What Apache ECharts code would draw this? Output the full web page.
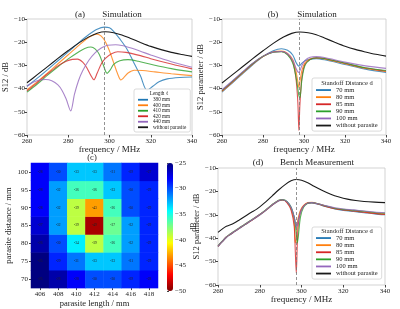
<!DOCTYPE html>
<html>
<head>
<meta charset="utf-8">
<script src="https://cdn.jsdelivr.net/npm/echarts@6/dist/echarts.min.js"></script>
<style>
html,body{margin:0;padding:0;background:#fff}
#chart{width:400px;height:309px}
</style>
</head>
<body>
<div id="chart"></div>
<script>
// (a) simulation, parasite length
var freqA380 = [260,265,270,275,280,285,290,294,297.5,300,302,305,308.5,311.5,315,318.2,321,324,328,334,340];
var s12A380 = [-39,-35.5,-31.8,-28,-24.2,-20.3,-16.7,-14.4,-13.5,-13.8,-15.3,-18.6,-23,-28.3,-34.5,-40.7,-39,-37,-35.8,-35.2,-35];
var freqA400 = [260,265,270,275,280,285,289,292,294,296,298,300,302,304,305.5,307,309,312,316,322,330,340];
var s12A400 = [-40.5,-37,-33.2,-29.3,-25.4,-21.5,-18.5,-17,-16.6,-17.4,-19.8,-23.8,-28.8,-33.8,-36.3,-35.2,-33.3,-32.1,-32.2,-32.8,-33.6,-34.4];
var freqA410 = [260,265,270,275,280,285,288,291,293,295,297,298.8,300.3,302,305,309,314,320,330,340];
var s12A410 = [-41.5,-38,-34.2,-30.6,-27.2,-24.2,-22.7,-22.1,-22.9,-25.2,-29.8,-33.4,-32,-29.6,-28,-27.5,-28.2,-29.5,-31.4,-32.8];
var freqA420 = [260,265,270,275,279,282,284.5,287,289,291,292.4,294,296,298,301,304,308,315,320,330,340];
var s12A420 = [-41,-37.4,-33.6,-30.2,-28.2,-27.4,-27.3,-28.6,-31,-34.4,-36.2,-33.4,-29.4,-27,-25,-24.1,-24.4,-25.8,-27.1,-29.4,-31.5];
var freqA440 = [260,263,266,269,272,275,277,279,281.2,283,285,287,290,293,296,299,303,306,310,315,320,330,340];
var s12A440 = [-39,-37.3,-36.3,-36.1,-36.6,-38.4,-40.8,-44.5,-49.6,-42.5,-36.5,-32.3,-27.8,-24.6,-22.5,-21.3,-21.1,-21.4,-22.4,-23.9,-25.5,-28.4,-30.8];
var freqA0 = [260,265,270,275,280,285,290,294,298,302,306,310,315,320,325,330,335,340];
var s12A0 = [-37.5,-34,-30.5,-27,-23.6,-20.4,-17.7,-16.1,-15.5,-15.9,-16.9,-18.3,-20.1,-21.8,-23.2,-24.4,-25.3,-26.1];

// (b) simulation, standoff distance
var freqB = [260,265,270,275,280,285,289,292,294.5,296,297,297.5,298,299,300.5,303,306,310,320,330,340];
var s12B70 = [-41.5,-37.6,-33.6,-29.7,-26.2,-23.7,-22.8,-23.5,-25.5,-28.5,-30,-30.3,-30,-29,-28,-27.3,-27.1,-27.6,-29.6,-31.6,-33];
var s12B80 = [-41.2,-37.3,-33.3,-29.4,-26.2,-24.2,-23.8,-24.8,-27.5,-32,-37,-39.5,-37,-32,-28.8,-27.2,-26.8,-27.2,-29.3,-31.3,-32.6];
var s12B85 = [-41,-37.1,-33.1,-29.3,-26.1,-24.2,-24,-25.2,-28.5,-35,-46,-58,-47,-35,-29.5,-27.4,-26.7,-27,-29.1,-31.1,-32.4];
var s12B90 = [-40.8,-36.9,-33,-29.2,-26.1,-24.3,-24.1,-25.5,-29,-34.5,-40,-43,-44,-36,-30,-27.5,-26.7,-27,-29,-31,-32.2];
var s12B100 = [-40.5,-36.7,-32.8,-29,-26,-24.2,-24,-25,-27.8,-31,-32.8,-33,-32.3,-30,-27.8,-26.5,-26.2,-26.6,-28.6,-30.2,-31.3];
var freqB0 = [260,265,270,275,280,285,290,294,298,302,306,310,315,320,325,330,335,340];
var s12B0 = [-37.6,-34.1,-30.6,-27.1,-23.7,-20.5,-17.8,-16.2,-15.6,-15.9,-16.8,-18.2,-20,-21.7,-23.1,-24.2,-25.2,-26];

// (c) heatmap
var lengthCats = ['406','408','410','412','414','416','418'];
var distanceCats = ['70','75','80','85','90','95','100'];
var s12Grid70 = [-25,-26,-28,-30,-30,-29,-28];
var s12Grid75 = [-25,-29,-31,-33,-33,-31,-29];
var s12Grid80 = [-26,-30,-34,-39,-36,-32,-29];
var s12Grid85 = [-27,-32,-39,-49,-37,-32,-29];
var s12Grid90 = [-28,-32,-39,-43,-36,-30,-29];
var s12Grid95 = [-28,-32,-36,-36,-33,-30,-29];
var s12Grid100 = [-28,-30,-33,-33,-31,-29,-27];
var colorbarTicks = [-50,-45,-40,-35,-30,-25];

// (d) bench measurement
var freqD = [260,262,264,266,268,270,273,276,280,283,286,289,291,293,295,296.5,297,297.5,298,298.5,299.5,301,303,305,308,312,316,320,325,330,335,340];
var s12D70 = [-43.6,-41.6,-39.7,-38.4,-37.2,-36,-34.2,-32.5,-30.1,-28.1,-25.9,-24.1,-23.7,-24.4,-26.8,-31,-33.5,-35,-34,-32,-28.5,-26.2,-25,-24.9,-25.5,-26.6,-27.5,-28.1,-28.6,-29.1,-29.6,-30];
var s12D80 = [-43.4,-41.4,-39.5,-38.2,-37,-35.8,-34,-32.3,-29.9,-27.9,-25.7,-23.9,-23.6,-24.6,-27.5,-33,-42,-40,-34,-31,-28,-26,-24.8,-24.7,-25.3,-26.4,-27.3,-27.8,-28.3,-28.8,-29.3,-29.7];
var s12D85 = [-43.5,-41.5,-39.6,-38.3,-37.1,-35.9,-34.1,-32.4,-30,-28,-25.8,-24,-23.7,-24.8,-28,-35,-45,-55,-42,-34,-29,-26.3,-25,-24.8,-25.4,-26.5,-27.4,-27.9,-28.4,-28.9,-29.4,-29.8];
var s12D90 = [-43.3,-41.3,-39.4,-38.1,-36.9,-35.7,-33.9,-32.2,-29.8,-27.8,-25.6,-23.8,-23.5,-24.3,-26.8,-31,-34,-38,-42,-39,-31,-26.8,-25.1,-24.8,-25.3,-26.3,-27.2,-27.7,-28.1,-28.5,-29,-29.3];
var s12D100 = [-43.4,-41.4,-39.5,-38.2,-37,-35.8,-34,-32.3,-29.9,-27.9,-25.7,-23.9,-23.6,-24.4,-26.9,-31,-33.5,-35,-34.5,-32.5,-29,-26.4,-25,-24.8,-25.3,-26.2,-27,-27.5,-27.9,-28.4,-28.8,-29.1];
var freqD0 = [260,262,264,266,268,270,273,276,278,280,283,286,289,292,295,297.5,300,303,306,310,314,318,322,326,330,335,340];
var s12D0 = [-37.5,-36.1,-34.9,-34.3,-33.4,-32.3,-30.6,-28.9,-27.9,-26.6,-24.4,-21.9,-19.4,-17.2,-15.5,-14.9,-15.2,-16.3,-17.8,-19.6,-21.2,-22.4,-23.3,-23.9,-24.3,-24.6,-24.8];

var resonanceFreq = 297.5;

var SERIF = "'Liberation Serif', 'DejaVu Serif', serif";
var C = {blue:'#1f77b4', orange:'#ff7f0e', green:'#2ca02c', red:'#d62728', purple:'#9467bd', black:'#1a1a1a'};

function minus(v) { return String(v).replace('-', '\u2212'); }

function line(name, xs, ys, color, g, dash) {
	var s = {
		type: 'line', name: name, xAxisIndex: g, yAxisIndex: g,
		data: xs.map(function(x, i){ return [x, ys[i]]; }),
		showSymbol: false, smooth: 0.3, silent: true,
		lineStyle: {color: color, width: 1.1, opacity: color === C.black ? 1 : 0.8},
		itemStyle: {color: color}
	};
	if (dash) {
		s.markLine = {
			silent: true, symbol: ['none','none'], label: {show: false},
			lineStyle: {color: '#777', type: [3,2], width: 0.8},
			data: [{xAxis: resonanceFreq}]
		};
	}
	return s;
}

function freqAxis(g, gap) {
	return {
		type: 'value', gridIndex: g, min: 260, max: 340, interval: 20,
		name: 'frequency / MHz', nameLocation: 'middle', nameGap: gap,
		nameTextStyle: {fontFamily: SERIF, fontSize: 9, color: '#222'},
		axisLine: {show: false},
		axisTick: {show: true, length: 2.5, lineStyle: {color: '#444'}},
		axisLabel: {fontFamily: SERIF, fontSize: 7, color: '#222', margin: 2.5, formatter: minus},
		splitLine: {show: false}
	};
}
function dbAxis(g, name, gap) {
	return {
		type: 'value', gridIndex: g, min: -60, max: -10, interval: 10,
		name: name, nameLocation: 'middle', nameGap: gap,
		nameTextStyle: {fontFamily: SERIF, fontSize: 8.5, color: '#222'},
		axisLine: {show: false},
		axisTick: {show: true, length: 2.5, lineStyle: {color: '#444'}},
		axisLabel: {fontFamily: SERIF, fontSize: 7, color: '#222', margin: 2, formatter: minus},
		splitLine: {show: false}
	};
}
function catAxis(g, cats, name, gap) {
	return {
		type: 'category', gridIndex: g, data: cats,
		name: name, nameLocation: 'middle', nameGap: gap,
		nameTextStyle: {fontFamily: SERIF, fontSize: 8.5, color: '#222'},
		axisLine: {show: false},
		axisTick: {show: true, alignWithLabel: true, interval: 0, length: 2, lineStyle: {color: '#444'}},
		axisLabel: {fontFamily: SERIF, fontSize: 7, color: '#222', margin: 3, interval: 0},
		splitLine: {show: false}, splitArea: {show: false}
	};
}
function legendBox(names, left, top, padTop, iconW, fs, lh) {
	return {
		data: names, orient: 'vertical', left: left, top: top,
		padding: [padTop, 4, 2, 4], itemWidth: iconW, itemHeight: 1.8, itemGap: 0,
		icon: 'rect', selectedMode: false,
		textStyle: {fontFamily: SERIF, fontSize: fs, lineHeight: lh, color: '#222'},
		backgroundColor: 'rgba(255,255,255,0.9)', borderColor: '#ccc', borderWidth: 0.7, borderRadius: 2
	};
}
function label(text, x, y, fs) {
	return {type: 'text', x: x, y: y, z: 100,
		style: {text: text, fontFamily: SERIF, fontSize: fs, fill: '#222', align: 'center', verticalAlign: 'middle'}};
}

var heatRows = [s12Grid70, s12Grid75, s12Grid80, s12Grid85, s12Grid90, s12Grid95, s12Grid100];
var heatData = [];
heatRows.forEach(function(row, i){
	row.forEach(function(v, j){ heatData.push([j, i, v]); });
});

var frame = {show: true, borderColor: '#c8c8c8', borderWidth: 0.8, backgroundColor: 'transparent'};
var gridBox = function(l, t, w, h, f){ return Object.assign({left: l, top: t, width: w, height: h}, f ? frame : {show: false}); };

var series = [
	{
		type: 'heatmap', xAxisIndex: 2, yAxisIndex: 2, data: heatData, silent: true,
		label: {show: true, fontSize: 3.5, color: '#222', fontFamily: SERIF,
			formatter: function(p){ return p.value[2]; }}
	},
	line('380 mm', freqA380, s12A380, C.blue, 0),
	line('400 mm', freqA400, s12A400, C.orange, 0),
	line('410 mm', freqA410, s12A410, C.green, 0),
	line('420 mm', freqA420, s12A420, C.red, 0),
	line('440 mm', freqA440, s12A440, C.purple, 0),
	line('without parasite', freqA0, s12A0, C.black, 0, true),
	line('70 mm', freqB, s12B70, C.blue, 1),
	line('80 mm', freqB, s12B80, C.orange, 1),
	line('85 mm', freqB, s12B85, C.red, 1),
	line('90 mm', freqB, s12B90, C.green, 1),
	line('100 mm', freqB, s12B100, C.purple, 1),
	line('without parasite', freqB0, s12B0, C.black, 1, true),
	line('70 mm', freqD, s12D70, C.blue, 3),
	line('80 mm', freqD, s12D80, C.orange, 3),
	line('85 mm', freqD, s12D85, C.red, 3),
	line('90 mm', freqD, s12D90, C.green, 3),
	line('100 mm', freqD, s12D100, C.purple, 3),
	line('without parasite', freqD0, s12D0, C.black, 3, true)
];

var distNames = ['70 mm','80 mm','85 mm','90 mm','100 mm','without parasite'];

var option = {
	animation: false,
	backgroundColor: '#fff',
	grid: [
		gridBox(27, 19, 165, 116, true),
		gridBox(222, 19, 164, 116, true),
		gridBox(31, 163, 127, 128, false),
		gridBox(218, 168, 167, 117, true),
		gridBox(167, 163, 6, 128, false)
	],
	xAxis: [
		freqAxis(0, 7.5),
		freqAxis(1, 7.5),
		catAxis(2, lengthCats, 'parasite length / mm', 8),
		freqAxis(3, 6.5),
		{type: 'value', gridIndex: 4, show: false}
	],
	yAxis: [
		dbAxis(0, 'S12 / dB', 14),
		dbAxis(1, 'S12 parameter / dB', 15),
		catAxis(2, distanceCats, 'parasite distance / mm', 11),
		dbAxis(3, 'S12 parameter / dB', 12.5),
		{
			type: 'value', gridIndex: 4, position: 'right',
			min: colorbarTicks[0], max: colorbarTicks[colorbarTicks.length - 1], interval: 5,
			name: 'dB', nameLocation: 'middle', nameGap: 9,
			nameTextStyle: {fontFamily: SERIF, fontSize: 8, color: '#222'},
			axisLine: {show: false},
			axisTick: {show: true, length: 2, lineStyle: {color: '#444'}},
			axisLabel: {fontFamily: SERIF, fontSize: 7, color: '#222', margin: 2, formatter: minus},
			splitLine: {show: false}
		}
	],
	visualMap: {
		type: 'continuous', seriesIndex: 0, dimension: 2, min: -50, max: -25,
		calculable: false, hoverLink: false, padding: 0,
		left: 167, top: 163, itemWidth: 6, itemHeight: 128,
		inRange: {color: ['#800000','#ff0000','#ff8000','#ffff00','#80ff80','#00ffff','#0080ff','#0000ff','#000080']}
	},
	legend: [
		legendBox(['380 mm','400 mm','410 mm','420 mm','440 mm','without parasite'], 134, 89, 8, 10, 5.2, 5.5),
		legendBox(distNames, 312, 78, 8.5, 15, 6.5, 7.1),
		legendBox(distNames, 312, 227, 7.5, 15, 6.5, 7.1)
	],
	graphic: [
		label('(a)', 80, 15, 9), label('Simulation', 122, 15, 9),
		label('(b)', 273, 15, 9), label('Simulation', 317, 15, 9),
		label('(c)', 92, 158, 8.5),
		label('(d)', 258, 163, 9), label('Bench Measurement', 317, 163, 9),
		label('Length \u2113', 159, 94, 5.2),
		label('Standoff Distance d', 347, 83, 6.5),
		label('Standoff Distance d', 347, 231, 6.5)
	],
	series: series
};

var myChart = echarts.init(document.getElementById('chart'));
myChart.setOption(option);
</script>
</body>
</html>
